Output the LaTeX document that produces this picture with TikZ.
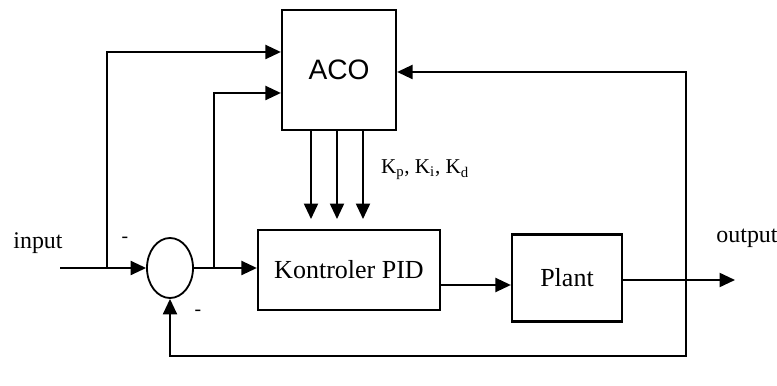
\documentclass[tikz,border=0pt]{standalone}
\usepackage{fontspec}
\setmainfont{Liberation Serif}
\newfontfamily\acofont{Liberation Sans}
\usetikzlibrary{arrows.meta,shapes.geometric}

\tikzset{
  blok/.style={draw,line width=1.6pt,inner sep=0pt},
  garis/.style={line width=1.4pt},
  sinyal/.style={garis,-{Triangle[length=11pt,width=10pt]}},
  teks/.style={inner sep=0pt,font=\fontsize{17}{20}\selectfont},
}

\begin{document}
\begin{tikzpicture}[x=0.025cm,y=-0.025cm]
    \useasboundingbox (0,0) rectangle (777,386);

    % Blocks
    \node[blok,minimum width=2.85cm,minimum height=3.0cm] (aco) at (339,70)
        {\acofont\fontsize{20}{24}\selectfont ACO};
    \node[blok,minimum width=4.55cm,minimum height=2.0cm] (pid) at (349,270)
        {\fontsize{18.5}{22}\selectfont Kontroler PID};
    \node[blok,minimum width=2.75cm,minimum height=2.175cm] (plant) at (567,278)
        {\fontsize{18.5}{22}\selectfont Plant};
    \node[draw,ellipse,line width=1.3pt,minimum width=1.15cm,minimum height=1.5cm,
          inner sep=0pt] (sum) at (170,268) {};

    % Branch points
    \coordinate (masuk) at (60,268);
    \coordinate (cabang1) at (107,268);
    \coordinate (cabang2) at (214,268);
    \coordinate (cabang3) at (686,280);
    \coordinate (keluaran) at (735,280);
    \coordinate (bawah) at (686,356);

    % Forward path
    \draw[sinyal] (masuk) -- (sum.west);
    \draw[sinyal] (sum.east) -- (pid.west |- sum.east);
    \draw[sinyal] (pid.east |- 0,285) -- (plant.west |- 0,285);
    \draw[sinyal] (plant.east |- cabang3) -- (keluaran);

    % Signals to ACO
    \draw[sinyal] (cabang1) |- (aco.west |- 0,52);
    \draw[sinyal] (cabang2) |- (aco.west |- 0,93);
    \draw[sinyal] (bawah) -- (cabang3) |- (aco.east |- 0,72);

    % Feedback
    \draw[sinyal] (cabang3) -- (bawah) -| (sum.south);

    % Gains from ACO
    \foreach \gx in {311,337,363}
        \draw[sinyal,shorten >=7pt] (aco.south -| \gx,0) -- (pid.north -| \gx,0);

    % Labels
    \node[teks] (lblin) at (38,243) {input};
    \node[teks] (lblout) at (747,238) {output};
    \node[teks,font=\fontsize{15}{18}\selectfont] (lblk) at (425,170)
        {K\textsubscript{p}, K\textsubscript{i}, K\textsubscript{d}};
    \node[teks,font=\fontsize{14}{16}\selectfont] (min1) at (125,240) {-};
    \node[teks,font=\fontsize{14}{16}\selectfont] (min2) at (198,313) {-};
\end{tikzpicture}
\end{document}
